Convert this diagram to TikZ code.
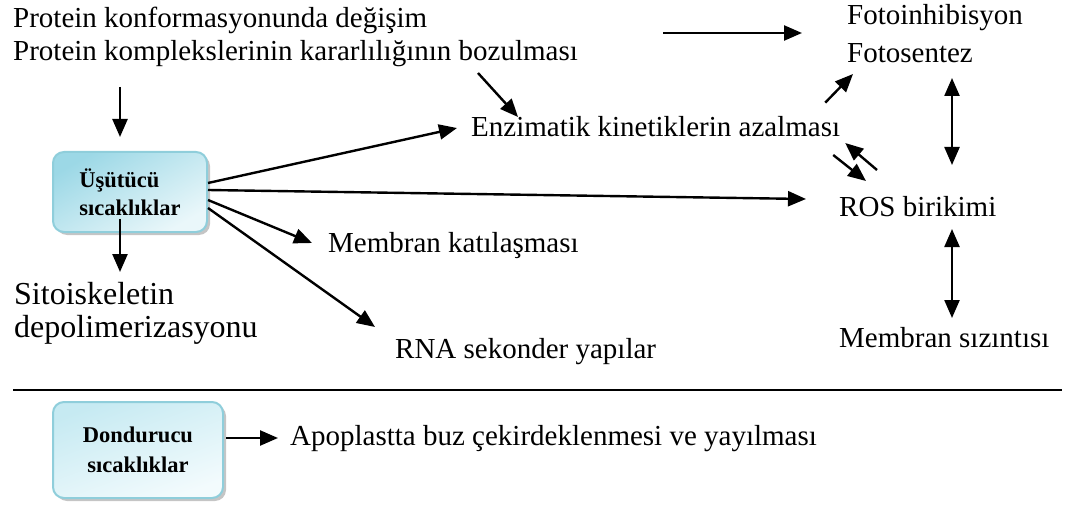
\documentclass[tikz,border=0pt]{standalone}
\usepackage{fontspec}
\setmainfont{Liberation Serif}
\usetikzlibrary{arrows.meta,shadows}

\definecolor{boxedge}{HTML}{8FCEDB}
\definecolor{coolA}{HTML}{9CD8E6}
\definecolor{coolB}{HTML}{EAF7FA}
\definecolor{frzA}{HTML}{C6EAF2}
\definecolor{frzB}{HTML}{F3FBFD}

\tikzset{
  lbl/.style={font=\fontsize{29}{34}\selectfont, inner sep=0pt, anchor=base west},
  biglbl/.style={font=\fontsize{32}{33}\selectfont, inner sep=0pt, anchor=north west, align=left},
  tempbox/.style={draw=boxedge, line width=2pt, rounded corners=11pt,
    drop shadow={shadow xshift=3pt, shadow yshift=-3pt, fill=black!45},
    font=\bfseries\fontsize{22.5}{28}\selectfont, inner sep=0pt},
  tip/.tip={Triangle[length=18pt,width=15pt]},
  arr/.style={draw, line width=2.4pt, -tip},
  darr/.style={draw, line width=2.4pt, tip-tip},
}

\begin{document}
\begin{tikzpicture}[x=1pt, y=-1pt]
\useasboundingbox (0,0) rectangle (1084,513);

% effect texts
\node[lbl] (p1) at (13,28) {Protein konformasyonunda değişim};
\node[lbl] (p2) at (13,61) {Protein komplekslerinin kararlılığının bozulması};
\node[lbl] (foto1) at (847,25) {Fotoinhibisyon};
\node[lbl] (foto2) at (847,63) {Fotosentez};
\node[lbl] (enz) at (471,137) {Enzimatik kinetiklerin azalması};
\node[lbl] (ros) at (839,217) {ROS birikimi};
\node[lbl] (memk) at (328,252) {Membran katılaşması};
\node[lbl] (rna) at (395,358) {RNA sekonder yapılar};
\node[lbl] (mems) at (839,347) {Membran sızıntısı};
\node[biglbl] (sito) at (14,282) {Sitoiskeletin\\depolimerizasyonu};
\node[lbl] (apop) at (290,445) {Apoplastta buz çekirdeklenmesi ve yayılması};

% temperature boxes
\node[tempbox, minimum width=154pt, minimum height=80pt, align=left,
      top color=coolA, bottom color=coolB, shading angle=30]
  (ust) at (130,192) {Üşütücü\\sıcaklıklar};
\node[tempbox, minimum width=170pt, minimum height=96pt, align=center,
      font=\bfseries\fontsize{22.5}{30}\selectfont,
      top color=frzA, bottom color=frzB, shading angle=20]
  (dond) at (138,450) {Dondurucu\\sıcaklıklar};

% separator
\draw[line width=2.4pt] (13,390) -- (1062,390);

% chilling connections
\draw[arr] ([shift={(107,26)}]p2.base west) -- ([shift={(-10,-14)}]ust.north);
\draw[arr] ([shift={(-10,-14)}]ust.south) -- ([shift={(106,-10)}]sito.north west);
\draw[arr] ([shift={(0,-9)}]ust.east) -- ([shift={(-14,-9)}]enz.base west);
\draw[arr] ([shift={(0,-2)}]ust.east) -- ([shift={(-33,-18)}]ros.base west);
\draw[arr] ([shift={(0,8)}]ust.east) -- ([shift={(-16,-9)}]memk.base west);
\draw[arr] ([shift={(0,16)}]ust.east) -- ([shift={(-20,-31)}]rna.base west);
\draw[arr] ([shift={(465,12)}]p2.base west) -- ([shift={(47,-20)}]enz.base west);
\draw[arr] ([shift={(236,5)}]p1.base east) -- ([shift={(-45,8)}]foto1.base west);
\draw[arr] ([shift={(-15,-14)}]enz.north east) -- ([shift={(6,11)}]foto2.base west);
\draw[arr] ([shift={(-7,18)}]enz.base east) -- ([shift={(27,-36)}]ros.base west);
\draw[arr] ([shift={(38,-47)}]ros.base west) -- ([shift={(5,6)}]enz.base east);
\draw[darr] ([shift={(105,15)}]foto2.base west) -- ([shift={(113,-52)}]ros.base west);
\draw[darr] ([shift={(113,12)}]ros.base west) -- ([shift={(113,-29)}]mems.base west);

% freezing connection
\draw[arr] ([shift={(2,-12)}]dond.east) -- ([shift={(-12,-7)}]apop.base west);
\end{tikzpicture}
\end{document}
